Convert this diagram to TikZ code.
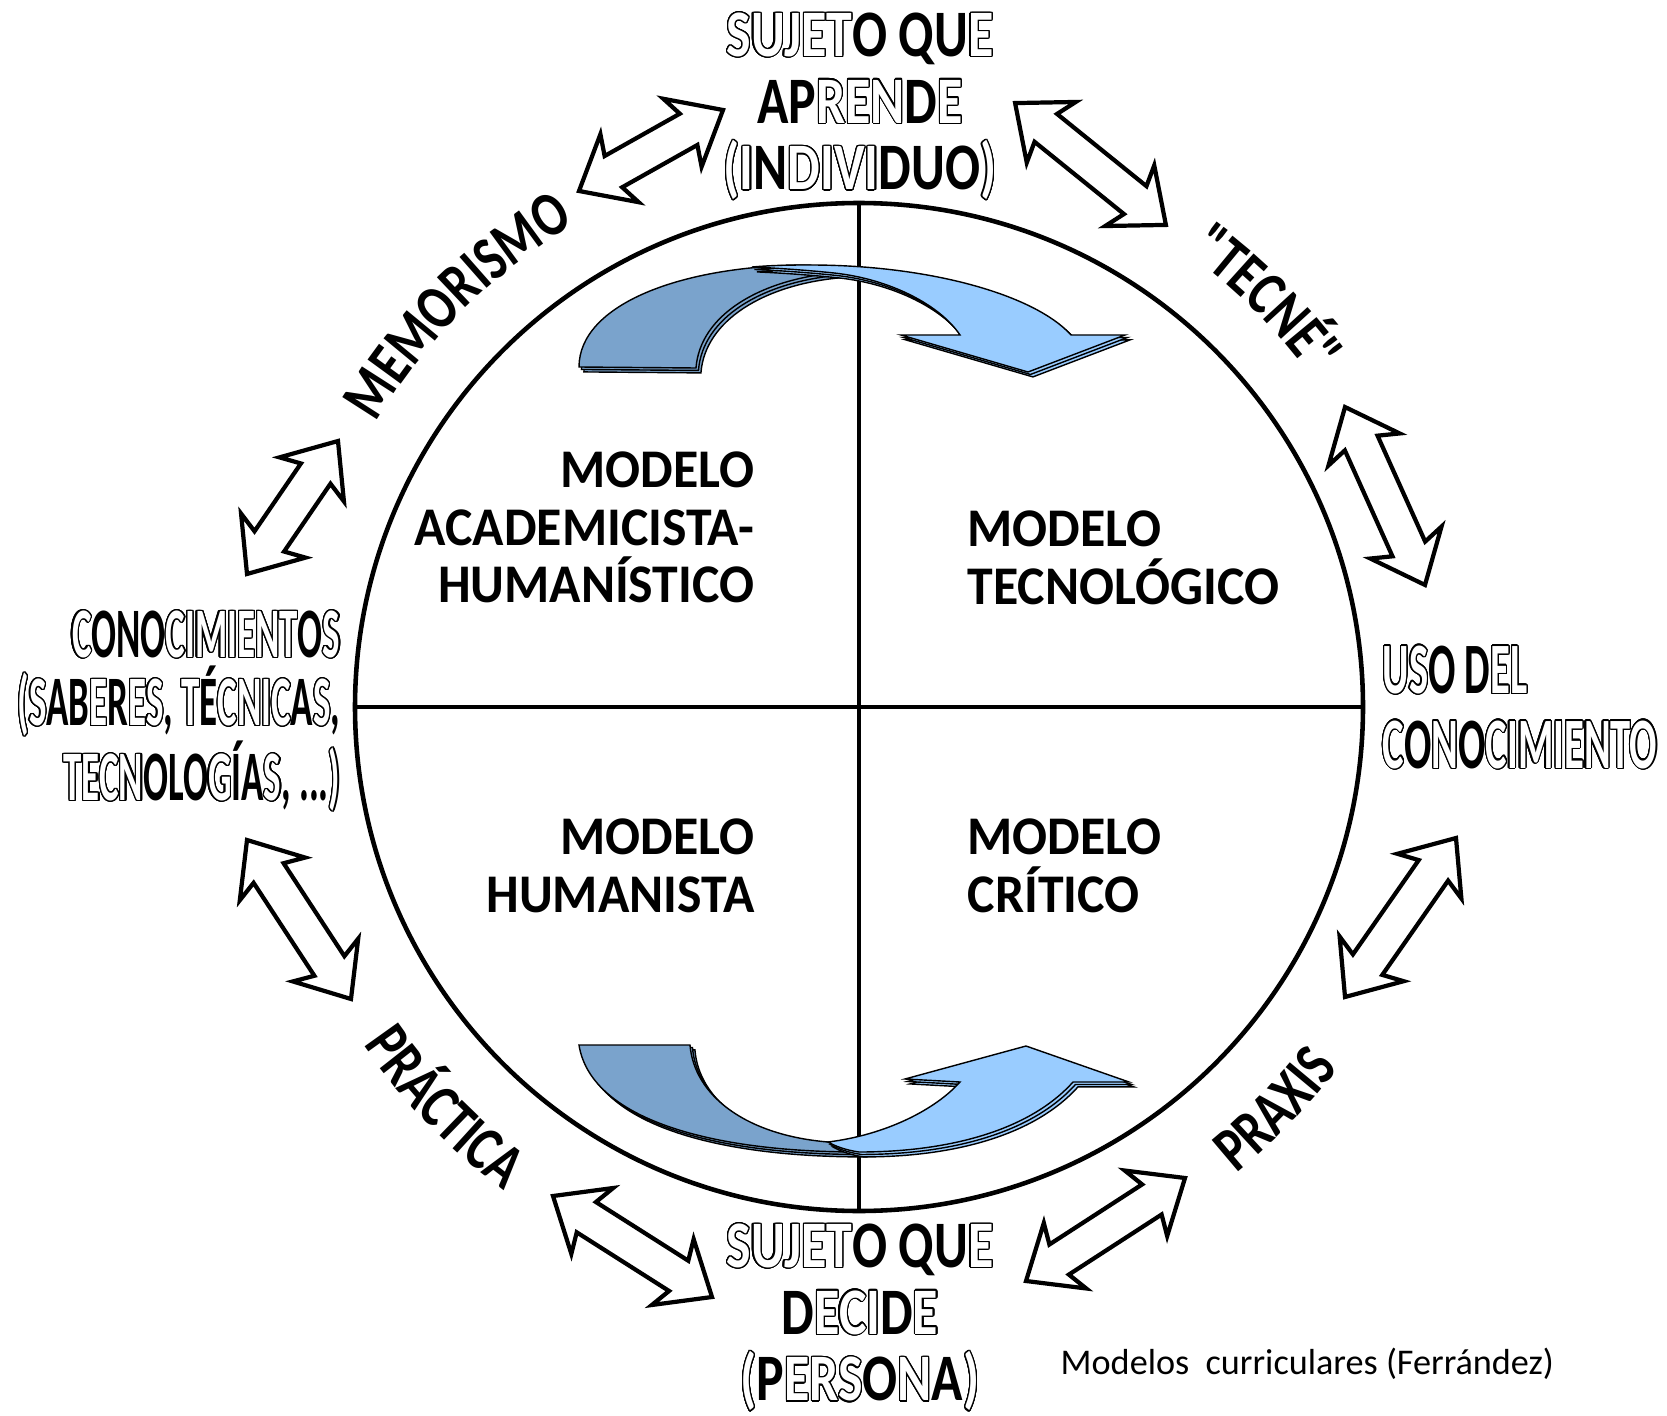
\documentclass[tikz,border=0pt]{standalone}
\usepackage{fontspec}
\setmainfont{Carlito}
\newfontfamily\condfont[FakeStretch=0.78]{Carlito}
\newfontfamily\narrowfont[FakeStretch=0.52]{Carlito}
\newfontfamily\widenarrowfont[FakeStretch=0.56]{Carlito}
\newfontfamily\modelfont[FakeStretch=0.95]{Carlito}
\usepackage{contour}
\contourlength{0.35pt}
\contournumber{24}
\usetikzlibrary{
  calc,
  shapes.arrows,
  shadows,
  decorations.text}

\definecolor{ribbondark}{RGB}{122,163,204}
\definecolor{ribbonlight}{RGB}{153,204,255}

% hollow (outlined) letters
\newcommand\hol[1]{{\color{white}\contour{black}{#1}}}
\newcommand\arcfont{\condfont\bfseries\fontsize{18}{20}\selectfont}
% double block arrow between two named points
\newcommand\linkarrow[3]{%
  \path let \p1=($(#3)-(#2)$), \n1={atan2(\y1,\x1)}, \n2={veclen(\x1,\y1)} in
    node[dblarrow, rotate=\n1, minimum height=\n2] (#1) at ($(#2)!.5!(#3)$) {};}

\begin{document}
\begin{tikzpicture}[
  x=0.1mm, y=0.1mm,
  ring/.style={line width=1.3pt},
  dblarrow/.style={double arrow, draw, fill=white, line width=1.2pt, inner sep=4.5pt,
    double arrow head extend=6pt, double arrow tip angle=80, double arrow head indent=2pt},
  ribbon/.style={draw=black, line width=0.4pt,
    double copy shadow={shadow xshift=0.7pt, shadow yshift=-0.7pt}},
  sidetext/.style={inner sep=0pt, align=center,
    font=\condfont\bfseries\fontsize{18.9}{19}\selectfont},
  modeltext/.style={inner sep=0pt, font=\modelfont\bfseries\fontsize{15.5}{16.4}\selectfont},
  arctext/.style={decorate, decoration={text along path, text align=center, text={|\arcfont|#1}}},
]
\useasboundingbox (0,0) rectangle (1667,1415);

% wheel and quadrants
\node[ring, circle, draw, minimum size=10.08cm, inner sep=0pt] (wheel) at (859,708) {};
\draw[ring] (wheel.north) -- (wheel.south);
\draw[ring] (wheel.west) -- (wheel.east);

% ribbons
\filldraw[ribbon, fill=ribbondark] (579,1048) .. controls (579,1110) and (680,1150) .. (810,1150)
  -- (834,1142) .. controls (760,1135) and (700,1100) .. (696,1047) -- cycle;
\filldraw[ribbon, fill=ribbonlight] (752,1148) .. controls (775,1150) and (795,1150) .. (810,1150)
  .. controls (930,1150) and (1035,1120) .. (1071,1080) -- (1125,1080) -- (1028,1043)
  -- (901,1080) -- (960,1080) .. controls (940,1110) and (890,1136) .. (834,1142)
  .. controls (805,1145) and (775,1147) .. (752,1148) -- cycle;
\filldraw[ribbon, fill=ribbondark] (579,370) -- (690,370) .. controls (694,320) and (745,280) .. (828,273)
  -- (859,263) .. controls (700,263) and (590,300) .. (579,370) -- cycle;
\filldraw[ribbon, fill=ribbonlight] (828,273) .. controls (885,280) and (935,305) .. (960,333)
  -- (905,336) -- (1026,369) -- (1129,333) -- (1073,333)
  .. controls (1030,285) and (950,263) .. (859,263) .. controls (845,265) and (835,269) .. (828,273) -- cycle;

% models
\node[modeltext, align=right, anchor=north east] (academic) at (755,964) {MODELO\\ACADEMICISTA-\\HUMANÍSTICO};
\node[modeltext, align=left, anchor=north west] (techno) at (967,905) {MODELO\\TECNOLÓGICO};
\node[modeltext, align=right, anchor=north east] (humanist) at (755,597) {MODELO\\HUMANISTA};
\node[modeltext, align=left, anchor=north west] (critic) at (967,597) {MODELO\\CRÍTICO};

% outer labels
\node[sidetext, anchor=north] (learner) at (860,1403)
  {\hol{SUJET}O QU\hol{E}\\AP\hol{REN}D\hol{E}\\\hol{(I}N\hol{DIVI}DUO\hol{)}};
\node[sidetext, anchor=north] (decider) at (860,192)
  {\hol{SUJET}O QU\hol{E}\\D\hol{ECI}D\hol{E}\\\hol{(}P\hol{ERS}O\hol{N}A\hol{)}};
\node[sidetext, align=right, anchor=north east, font=\narrowfont\bfseries\fontsize{20.2}{19.4}\selectfont] (knowledge) at (341,805)
  {\hol{C}ONO\hol{CIMIENT}O\hol{S}\\\hol{(S}AB\hol{E}R\hol{ES}, \hol{T}É\hol{CNIC}A\hol{S},\\\hol{TECN}OLO\hol{G}ÍA\hol{S}, ...\hol{)}};
\node[sidetext, align=left, anchor=north west, font=\widenarrowfont\bfseries\fontsize{20.6}{21.3}\selectfont] (use) at (1382,770)
  {\hol{US}O D\hol{EL}\\\hol{C}O\hol{N}O\hol{CIMIENTO}};

% curved labels
\coordinate (c) at (wheel.center);
\path[arctext=MEMORISMO] ($(c)+(155:560)$) arc[start angle=155, end angle=115, radius=560];
\path[arctext="TECNÉ"] ($(c)+(65:560)$) arc[start angle=65, end angle=25, radius=560];
\path[arctext=PRÁCTICA] ($(c)+(204:600)$) arc[start angle=204, end angle=244, radius=600];
\path[arctext=PRAXIS] ($(c)+(-64:600)$) arc[start angle=-64, end angle=-24, radius=600];

% links
\coordinate (l1-a) at (579,1224); \coordinate (l1-b) at (723,1305);
\coordinate (l2-a) at (1015,1312); \coordinate (l2-b) at (1166,1190);
\coordinate (l3-a) at (1345,1008); \coordinate (l3-b) at (1425,830);
\coordinate (l4-a) at (1456,577); \coordinate (l4-b) at (1345,418);
\coordinate (l5-a) at (1026,134); \coordinate (l5-b) at (1185,237);
\coordinate (l6-a) at (553,219); \coordinate (l6-b) at (712,118);
\coordinate (l7-a) at (247,575); \coordinate (l7-b) at (351,416);
\coordinate (l8-a) at (247,841); \coordinate (l8-b) at (338,974);
\foreach \i in {1,...,8} \linkarrow{link\i}{l\i-a}{l\i-b};

\node[anchor=west, inner sep=0pt, font=\fontsize{10.3}{12}\selectfont] (caption) at (1060,51)
  {Modelos~ curriculares (Ferrández)};
\end{tikzpicture}
\end{document}
